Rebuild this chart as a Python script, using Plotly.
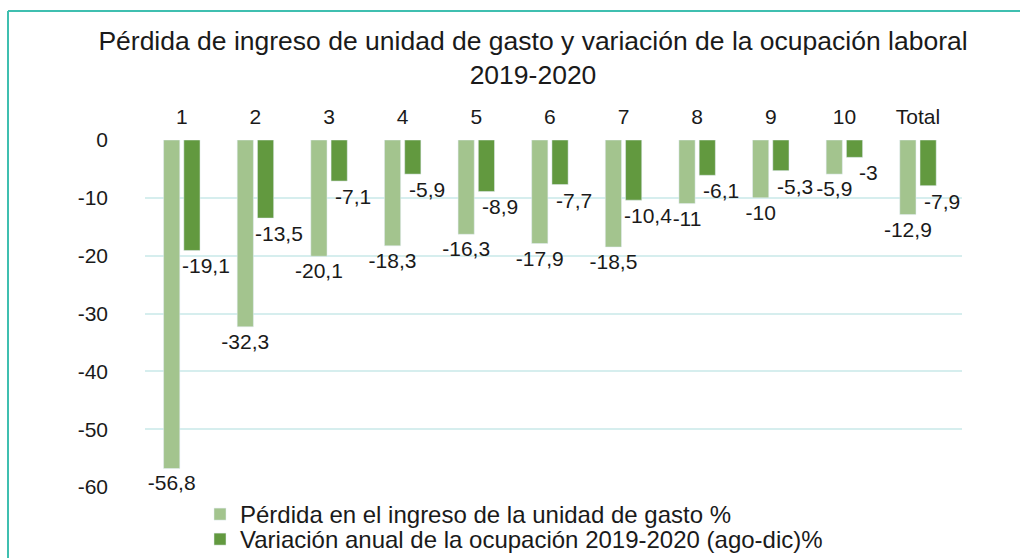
import plotly.graph_objects as go

categorias = ["1", "2", "3", "4", "5", "6", "7", "8", "9", "10", "Total"]
perdida_ingreso = [-56.8, -32.3, -20.1, -18.3, -16.3, -17.9, -18.5, -11, -10, -5.9, -12.9]
variacion_ocupacion = [-19.1, -13.5, -7.1, -5.9, -8.9, -7.7, -10.4, -6.1, -5.3, -3, -7.9]
y_ticks = [0, -10, -20, -30, -40, -50, -60]

W, H = 1020, 558
L, R, T, B = 145, 58, 140, 71
pw, ph = W - L - R, H - T - B
FONT = "Liberation Sans, Arial"
NEGRO = "#1a1a1a"


def px(x):
    return (x - L) / pw


def py(y):
    return 1 - (y - T) / ph


def etiqueta(v):
    return f"{v:g}".replace(".", ",")


fig = go.Figure()
fig.add_trace(go.Bar(
    x=categorias, y=perdida_ingreso,
    name="Pérdida en el ingreso de la unidad de gasto %",
    marker=dict(color="#A3C48E"),
    text=[etiqueta(v) for v in perdida_ingreso],
    textposition="outside", constraintext="none", cliponaxis=False,
    textfont=dict(size=21, color=NEGRO, family=FONT),
))
fig.add_trace(go.Bar(
    x=categorias, y=variacion_ocupacion,
    name="Variación anual de la ocupación 2019-2020 (ago-dic)%",
    marker=dict(color="#62993F"),
    legend="legend2",
))

# etiquetas de la serie oscura, algo corridas a la derecha como en el original
for i, v in enumerate(variacion_ocupacion):
    fig.add_annotation(x=i, y=v, text=etiqueta(v), showarrow=False,
                       xanchor="center", yanchor="top", xshift=24, yshift=-2,
                       font=dict(size=21, color=NEGRO, family=FONT))

# marco del grafico
marco = dict(color="#3FBFB0", width=2)
fig.add_shape(type="line", xref="paper", yref="paper",
              x0=px(8), x1=px(8), y0=py(11), y1=py(H + 5), line=marco)
fig.add_shape(type="line", xref="paper", yref="paper",
              x0=px(8), x1=px(W + 5), y0=py(11), y1=py(11), line=marco)

fig.add_annotation(text="Gráfico 1", xref="paper", yref="paper",
                   x=px(1016), y=py(6), xanchor="right", yanchor="bottom",
                   showarrow=False,
                   font=dict(size=24, color="#3FBFB0", family=FONT))

fig.update_layout(
    width=W, height=H,
    margin=dict(l=L, r=R, t=T, b=B, autoexpand=False),
    paper_bgcolor="white", plot_bgcolor="white",
    barmode="group", bargap=0.45, bargroupgap=0.2,
    title=dict(
        text="Pérdida de ingreso de unidad de gasto y variación de la ocupación laboral<br>2019-2020",
        x=533 / W, xanchor="center", y=1 - 50 / H, yanchor="top",
        font=dict(size=26.5, color=NEGRO, family=FONT),
    ),
    xaxis=dict(type="category", side="top", showline=False, showgrid=False, ticks="",
               ticklabelstandoff=11,
               tickfont=dict(size=21, color=NEGRO, family=FONT)),
    yaxis=dict(range=[-60, 0], tickvals=y_ticks, ticktext=[str(v) for v in y_ticks],
               showgrid=True, gridcolor="#D6EEEE",
               gridwidth=1.5, zeroline=False, showline=False, ticklabelstandoff=36,
               tickfont=dict(size=21, color=NEGRO, family=FONT)),
    legend=dict(x=px(200), y=py(492), xanchor="left", yanchor="top", itemwidth=30,
                bgcolor="rgba(0,0,0,0)",
                font=dict(size=24, color=NEGRO, family=FONT)),
    legend2=dict(x=px(200), y=py(517), xanchor="left", yanchor="top", itemwidth=30,
                 bgcolor="rgba(0,0,0,0)",
                 font=dict(size=24, color=NEGRO, family=FONT)),
    showlegend=True,
)

fig.write_html("out.html", config={"displayModeBar": False},
               post_script="document.body.style.margin='0';")
